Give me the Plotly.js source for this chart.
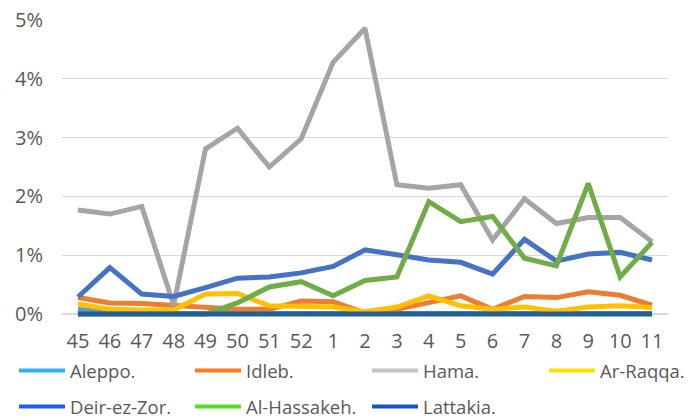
<!DOCTYPE html>
<html>
<head>
<meta charset="utf-8">
<script src="https://cdn.plot.ly/plotly-3.0.1.min.js"></script>
<style>html,body{margin:0;padding:0;background:#fff;}#chart{width:694px;height:419px;}</style>
</head>
<body>
<div id="chart"></div>
<script>
// Week labels (x axis categories)
const weeks = ["45","46","47","48","49","50","51","52","1","2","3","4","5","6","7","8","9","10","11"];

// Series values, in percent
const aleppo     = [0.08,0.02,0.01,0.01,0.01,0.01,0.01,0.01,0.01,0.01,0.01,0.01,0.01,0.01,0.01,0.01,0.01,0.01,0.01];
const idleb      = [0.28,0.19,0.18,0.14,0.11,0.08,0.08,0.22,0.21,0.02,0.08,0.19,0.31,0.08,0.30,0.28,0.38,0.32,0.15];
const hama       = [1.77,1.70,1.83,0.15,2.81,3.16,2.50,2.98,4.28,4.86,2.20,2.14,2.20,1.26,1.96,1.54,1.64,1.64,1.23];
const arRaqqa    = [0.17,0.08,0.07,0.07,0.34,0.35,0.14,0.12,0.12,0.04,0.12,0.31,0.14,0.08,0.12,0.05,0.12,0.14,0.11];
const deirEzZor  = [0.29,0.79,0.34,0.30,0.45,0.61,0.63,0.70,0.81,1.09,1.01,0.92,0.88,0.68,1.27,0.90,1.02,1.05,0.92];
const alHassakeh = [0.00,0.00,0.00,0.00,0.00,0.19,0.46,0.55,0.31,0.57,0.63,1.91,1.57,1.66,0.95,0.82,2.22,0.63,1.22];
const lattakia   = [0,0,0,0,0,0,0,0,0,0,0,0,0,0,0,0,0,0,0];

const names = ["Aleppo.","Idleb.","Hama.","Ar-Raqqa.","Deir-ez-Zor.","Al-Hassakeh.","Lattakia."];
const series = [aleppo, idleb, hama, arRaqqa, deirEzZor, alHassakeh, lattakia];
const lineColors = ["#5B9BD5","#ED7D31","#A5A5A5","#FFC000","#4472C4","#70AD47","#255E91"];
const legendColors = ["#33B0F2","#FF7A1C","#C4C4C4","#FFDF00","#1F5CF2","#58DE24","#1A4FD0"];
// legend slot for each series: column, row
const legendCol = [0,1,2,3,0,1,2];
const legendRow = [0,0,0,0,1,1,1];

const traces = [];
series.forEach((vals, i) => {
  traces.push({
    type: "scatter", mode: "lines", x: weeks, y: vals, name: names[i],
    line: {color: lineColors[i], width: 5, shape: "linear"},
    showlegend: false, hoverinfo: "skip"
  });
});
series.forEach((vals, i) => {
  traces.push({
    type: "scatter", mode: "lines", x: [null], y: [null], name: names[i],
    line: {color: legendColors[i], width: 4},
    showlegend: true, legend: i === 0 ? "legend" : "legend" + (i + 1), hoverinfo: "skip"
  });
});

const fontFam = "Open Sans, Liberation Sans, sans-serif";
const colX = [14, 190, 367, 544];
const rowY = [371, 407];

const layout = {
  width: 694, height: 419,
  margin: {l: 62, r: 26, t: 20, b: 102, pad: 0},
  paper_bgcolor: "#ffffff", plot_bgcolor: "#ffffff",
  font: {family: fontFam, color: "#595959"},
  xaxis: {
    type: "category", range: [-0.5, 18.5], showgrid: false, zeroline: false,
    showline: false, ticks: "", tickfont: {family: fontFam, size: 20, color: "#595959"},
    ticklabelstandoff: 10, fixedrange: true
  },
  yaxis: {
    range: [-0.05, 5.0], dtick: 1, tick0: 0, ticksuffix: "%", tickformat: "d",
    showgrid: true, gridcolor: "#D9D9D9", gridwidth: 1.3, zeroline: false,
    showline: false, ticks: "", tickfont: {family: fontFam, size: 20, color: "#595959"},
    ticklabelstandoff: 18, fixedrange: true
  },
  showlegend: true
};
names.forEach((n, i) => {
  const key = i === 0 ? "legend" : "legend" + (i + 1);
  layout[key] = {
    orientation: "h", xref: "container", yref: "container",
    xanchor: "left", yanchor: "middle",
    x: colX[legendCol[i]] / 694, y: 1 - rowY[legendRow[i]] / 419,
    font: {family: fontFam, size: 18.5, color: "#595959"},
    bgcolor: "rgba(0,0,0,0)", borderwidth: 0, itemwidth: 46
  };
});

Plotly.newPlot("chart", traces, layout, {displayModeBar: false, staticPlot: true});
</script>
</body>
</html>
